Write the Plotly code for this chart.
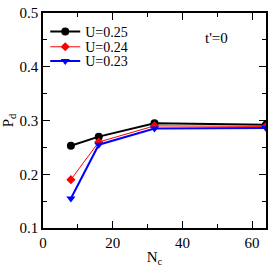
import plotly.graph_objects as go

nc = [8, 16, 32, 64]
p_u025 = [0.253, 0.270, 0.295, 0.292]
p_u024 = [0.190, 0.260, 0.290, 0.289]
p_u023 = [0.155, 0.255, 0.285, 0.286]
labels = ["U=0.25", "U=0.24", "U=0.23"]

font = "Times New Roman"
fig = go.Figure()
fig.add_trace(go.Scatter(x=nc, y=p_u025, name=labels[0], mode="lines+markers", legend="legend",
                         showlegend=True,
                         line=dict(color="black", width=2),
                         marker=dict(symbol="circle", size=8, color="black")))
fig.add_trace(go.Scatter(x=nc, y=p_u024, name=labels[1], mode="lines+markers", legend="legend2",
                         showlegend=True,
                         line=dict(color="red", width=1),
                         marker=dict(symbol="diamond", size=7, color="red")))
fig.add_trace(go.Scatter(x=nc, y=p_u023, name=labels[2], mode="lines+markers", legend="legend3",
                         showlegend=True,
                         line=dict(color="blue", width=2),
                         marker=dict(symbol="triangle-down", size=8, color="blue")))

axis_common = dict(showline=True, linecolor="black", linewidth=1.5, mirror="ticks",
                   ticks="inside", ticklen=7, tickwidth=1, tickcolor="black",
                   showgrid=False, zeroline=False, ticklabeloverflow="allow",
                   tickfont=dict(family=font, size=15, color="black"))
fig.update_xaxes(range=[0, 64], tickvals=[0, 20, 40, 60],
                 minor=dict(ticks="inside", ticklen=4, tickcolor="black", dtick=10, tick0=0),
                 title=dict(text="N<sub>c</sub>", font=dict(family=font, size=15, color="black"), standoff=2),
                 **axis_common)
fig.update_yaxes(range=[0.1, 0.5], tickvals=[0.1, 0.2, 0.3, 0.4, 0.5],
                 ticktext=["0.1", "0.2", "0.3", "0.4", "0.5"],
                 minor=dict(ticks="inside", ticklen=4, tickcolor="black", dtick=0.05, tick0=0.1),
                 title=dict(text="P<sub>d</sub>", font=dict(family=font, size=15, color="black"), standoff=4),
                 **axis_common)
fig.add_annotation(x=0.84, y=0.93, xref="paper", yref="paper", text="t'=0", showarrow=False,
                   font=dict(family=font, size=15, color="black"))

def leg(y):
    return dict(x=0.01, y=y, xanchor="left", yanchor="middle", bgcolor="rgba(0,0,0,0)",
                itemwidth=30, font=dict(family=font, size=14, color="black"))

fig.update_layout(width=273, height=268, margin=dict(l=43, r=5, t=7, b=35),
                  plot_bgcolor="white", paper_bgcolor="white", showlegend=True,
                  legend=leg(0.912), legend2=leg(0.841), legend3=leg(0.775),
                  font=dict(family=font))
fig.write_html("out.html", config={"displayModeBar": False},
               post_script="document.body.style.margin='0';document.body.style.overflow='hidden';")
